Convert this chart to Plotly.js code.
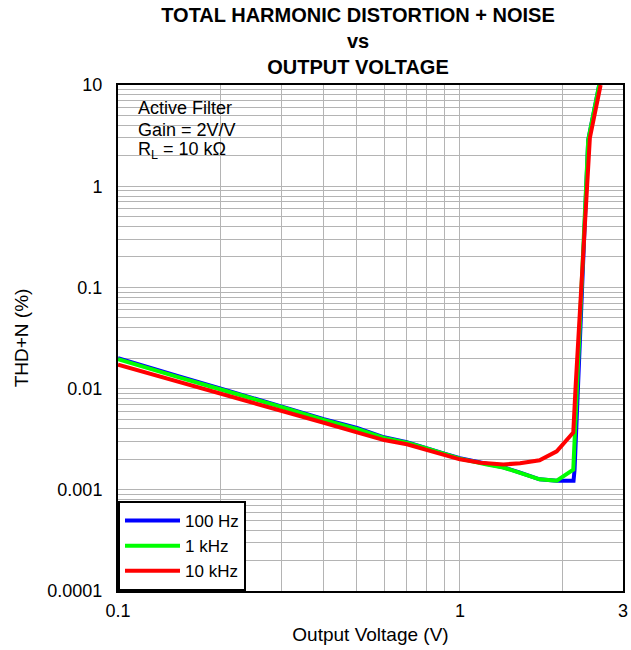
<!DOCTYPE html>
<html>
<head>
<meta charset="utf-8">
<script src="https://cdn.plot.ly/plotly-3.0.1.min.js"></script>
<style>html,body{margin:0;padding:0;background:#fff;}#chart{width:631px;height:650px;}</style>
</head>
<body>
<div id="chart"></div>
<script>
// ---- data ----
const seriesNames = ['100 Hz', '1 kHz', '10 kHz'];

const vout100 = [0.1, 0.12, 0.15, 0.2, 0.25, 0.3, 0.4, 0.5, 0.6, 0.7, 0.8, 0.9, 1.0, 1.2, 1.34, 1.5, 1.71, 1.92, 2.15, 2.165, 2.373, 2.556];
const thd100  = [0.0200, 0.0168, 0.0133, 0.0100, 0.0080, 0.0067, 0.0050, 0.0041, 0.0033, 0.00295, 0.0026, 0.00228, 0.00205, 0.00180, 0.00167, 0.00148, 0.00127, 0.00123, 0.00123, 0.00158, 2.85, 10];

const vout1k = [0.1, 0.12, 0.15, 0.2, 0.25, 0.3, 0.4, 0.5, 0.6, 0.7, 0.8, 0.9, 1.0, 1.2, 1.34, 1.5, 1.71, 1.92, 2.146, 2.373, 2.556];
const thd1k  = [0.0195, 0.0164, 0.0130, 0.0098, 0.0079, 0.0066, 0.0049, 0.0040, 0.00325, 0.00292, 0.00257, 0.00225, 0.00203, 0.00178, 0.00166, 0.00147, 0.00127, 0.00123, 0.00158, 2.85, 10];

const vout10k = [0.1, 0.12, 0.15, 0.2, 0.25, 0.3, 0.4, 0.5, 0.6, 0.7, 0.8, 0.9, 1.0, 1.15, 1.34, 1.5, 1.71, 1.92, 2.146, 2.18, 2.35, 2.40, 2.58];
const thd10k  = [0.0172, 0.0145, 0.0118, 0.0090, 0.0072, 0.0061, 0.0046, 0.0037, 0.0031, 0.00282, 0.0025, 0.0022, 0.0020, 0.00185, 0.00178, 0.00183, 0.00196, 0.0024, 0.00368, 0.0104, 1.06, 3.0, 10];

// tick positions and labels
const xTickVals = [0.1, 1, 3];
const xTickText = ['0.1', '1', '3'];
const xMinorVals = [0.2, 0.3, 0.4, 0.5, 0.6, 0.7, 0.8, 0.9, 2];
const yTickVals = [0.0001, 0.001, 0.01, 0.1, 1, 10];
const yTickText = ['0.0001', '0.001', '0.01', '0.1', '1', '10'];
const titleLines = ['TOTAL HARMONIC DISTORTION + NOISE', 'vs', 'OUTPUT VOLTAGE'];
const noteLines = ['Active Filter', 'Gain = 2V/V', 'R<sub>L</sub> = 10 kΩ'];

const yMinorVals = [];
yTickVals.slice(0, -1).forEach(d => {
  for (let m = 2; m <= 9; m++) yMinorVals.push(+(d * m).toPrecision(3));
});

const FONT = 'Liberation Sans, Arial, sans-serif';
const GRID = '#b4b4b4';
const colors = ['#0000ff', '#00ff00', '#ff0000'];
const xs = [vout100, vout1k, vout10k];
const ys = [thd100, thd1k, thd10k];

const traces = seriesNames.map((n, i) => ({
  type: 'scatter', mode: 'lines', name: n,
  x: xs[i], y: ys[i],
  line: {color: colors[i], width: 4}
}));

const annotations = [];
const noteY = [108, 129.5, 150];
noteLines.forEach((t, i) => annotations.push({
  text: t, xref: 'paper', yref: 'paper',
  x: (136 - 118) / 505, y: 1 - (noteY[i] - 85) / 506,
  xanchor: 'left', yanchor: 'middle', showarrow: false,
  font: {family: FONT, size: 18, color: '#000'}
}));

const layout = {
  width: 631, height: 650,
  margin: {l: 118, r: 8, t: 85, b: 59},
  paper_bgcolor: '#fff', plot_bgcolor: '#fff',
  font: {family: FONT, size: 18, color: '#000'},
  title: {
    text: titleLines.map(t => '<b>' + t + '</b>').join('<br>'),
    font: {family: FONT, size: 20, color: '#000'},
    xref: 'paper', x: (358 - 118) / 505, xanchor: 'center',
    yref: 'container', y: 1 - 22 / 650, yanchor: 'middle'
  },
  showlegend: true,
  legend: {
    x: 0, y: 0, xanchor: 'left', yanchor: 'bottom',
    bgcolor: '#fff', bordercolor: '#000', borderwidth: 2,
    font: {family: FONT, size: 17, color: '#000'},
    itemwidth: 55
  },
  xaxis: {
    type: 'log', range: [-1, Math.log10(3)],
    tickmode: 'array', tickvals: xTickVals, ticktext: xTickText,
    ticks: '', showgrid: true, gridcolor: GRID, gridwidth: 1,
    minor: {tickmode: 'array', tickvals: xMinorVals, showgrid: true, gridcolor: GRID, gridwidth: 1, ticks: ''},
    showline: true, linecolor: '#000', linewidth: 2, mirror: true,
    tickfont: {family: FONT, size: 18, color: '#000'},
    ticklabelstandoff: 2,
    zeroline: false, automargin: false,
    title: {text: 'Output Voltage (V)', font: {family: FONT, size: 19, color: '#000'}, standoff: 8}
  },
  yaxis: {
    type: 'log', range: [-4, 1],
    tickmode: 'array', tickvals: yTickVals, ticktext: yTickText,
    ticks: '', showgrid: true, gridcolor: GRID, gridwidth: 1,
    minor: {tickmode: 'array', tickvals: yMinorVals, showgrid: true, gridcolor: GRID, gridwidth: 1, ticks: ''},
    showline: true, linecolor: '#000', linewidth: 2, mirror: true,
    tickfont: {family: FONT, size: 18, color: '#000'},
    ticklabelstandoff: 10,
    zeroline: false, automargin: false,
    title: {text: 'THD+N (%)', font: {family: FONT, size: 19, color: '#000'}, standoff: 14}
  },
  shapes: [{
    type: 'rect', xref: 'paper', yref: 'paper', layer: 'below',
    x0: 0, x1: (247 - 118) / 505, y0: 1 - (175 - 85) / 506, y1: 1,
    fillcolor: '#fff', line: {width: 0}
  }],
  annotations: annotations
};

Plotly.newPlot('chart', traces, layout, {staticPlot: true, displayModeBar: false});
</script>
</body>
</html>
